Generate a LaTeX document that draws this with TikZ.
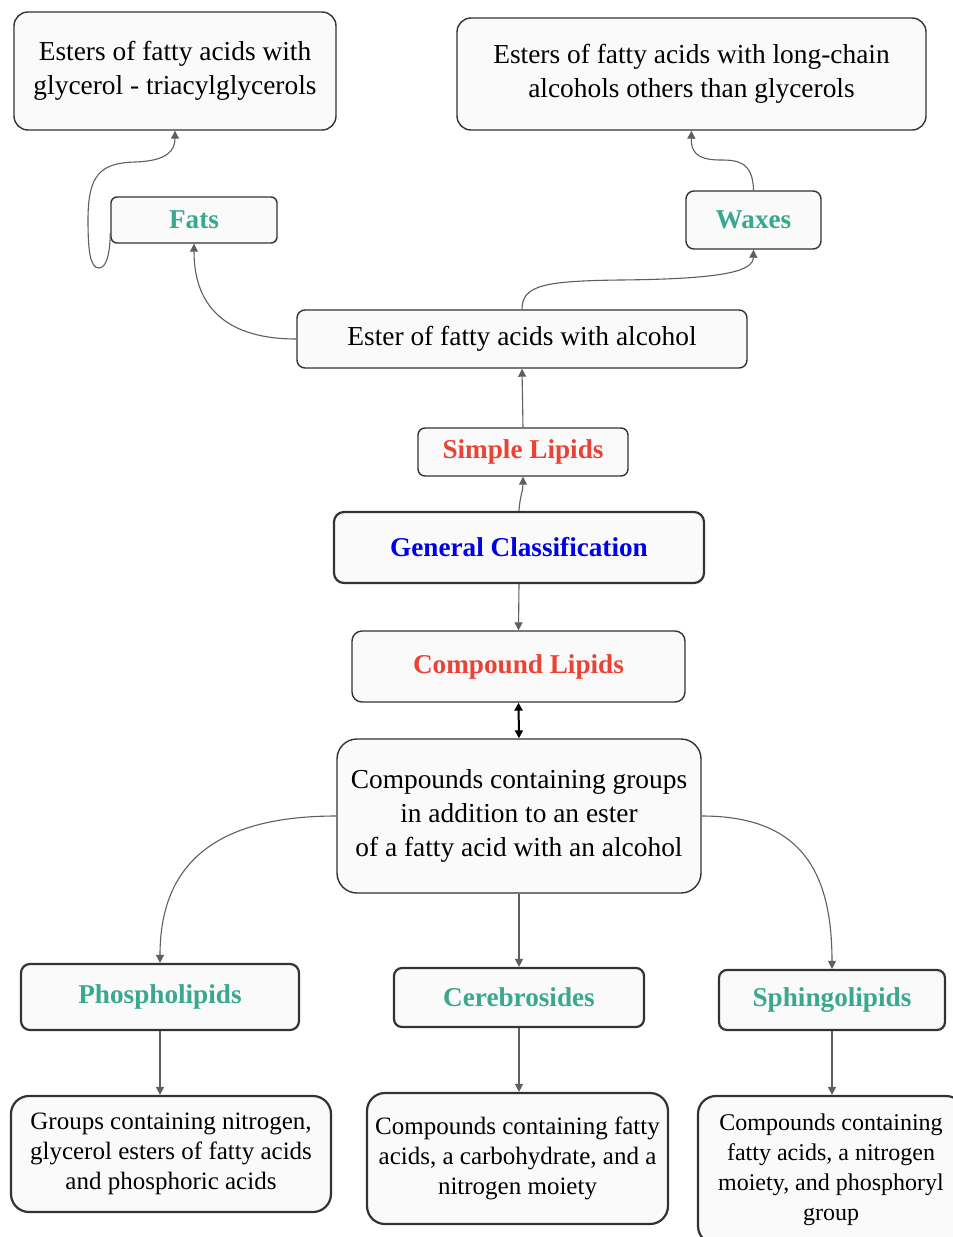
\documentclass[tikz,border=0pt]{standalone}
\usepackage{fontspec}
\setmainfont{Liberation Serif}
\usetikzlibrary{arrows.meta,calc}
\definecolor{teal1}{RGB}{58,168,143}
\definecolor{red1}{RGB}{234,67,53}
\definecolor{blue1}{RGB}{0,0,230}
\definecolor{fill1}{RGB}{250,250,250}
\definecolor{bord}{RGB}{51,51,51}
\definecolor{conn}{RGB}{95,95,95}
\tikzset{
  box/.style={draw=bord, fill=fill1, line width=0.7pt, rounded corners=6pt, inner sep=0pt, align=center,
    font=\fontsize{13.7}{17}\selectfont},
  tbox/.style={box, line width=1.1pt},
  lab/.style={font=\fontsize{13.6}{16}\selectfont\bfseries},
  desc/.style={font=\fontsize{12.5}{15}\selectfont},
  conn/.style={draw=conn, line width=0.55pt, -{Triangle[length=4pt,width=4pt]}},
}
\begin{document}
\begin{tikzpicture}[x=0.5pt,y=-0.5pt]
\clip (0,0) rectangle (953,1237);
\fill[white] (0,0) rectangle (953,1237);
% nodes
\node[box, minimum width=161pt, minimum height=59pt, rounded corners=7pt] (tl) at (175,71)
  {Esters of fatty acids with\\glycerol - triacylglycerols};
\node[box, minimum width=234.5pt, minimum height=56pt, rounded corners=7pt] (tr) at (691.5,74)
  {Esters of fatty acids with long-chain\\alcohols others than glycerols};
\node[box, lab, text=teal1, minimum width=83pt, minimum height=23pt, rounded corners=3pt] (fats) at (194,220) {Fats};
\node[box, lab, text=teal1, minimum width=67.5pt, minimum height=29pt, rounded corners=4pt] (waxes) at (753.5,220) {Waxes};
\node[box, minimum width=225pt, minimum height=29pt, rounded corners=4pt] (ester) at (522,339) {Ester of fatty acids with alcohol};
\node[box, lab, text=red1, minimum width=105pt, minimum height=24pt, rounded corners=3.5pt] (simple) at (523,452) {Simple Lipids};
\node[tbox, lab, text=blue1, minimum width=185pt, minimum height=35.5pt, rounded corners=5pt] (general) at (519,547.5) {General Classification};
\node[box, lab, text=red1, minimum width=166.5pt, minimum height=35.5pt, rounded corners=5pt] (compound) at (518.5,666.5) {Compound Lipids};
\node[box, minimum width=182pt, minimum height=77pt, rounded corners=10pt] (cc) at (519,816)
  {Compounds containing groups\\in addition to an ester\\of a fatty acid with an alcohol};
\node[tbox, lab, text=teal1, minimum width=139pt, minimum height=33pt, rounded corners=4.5pt] (phos) at (160,997) {Phospholipids};
\node[tbox, lab, text=teal1, minimum width=125pt, minimum height=29.5pt, rounded corners=4pt] (cere) at (519,997.5) {Cerebrosides};
\node[tbox, lab, text=teal1, minimum width=113pt, minimum height=30pt, rounded corners=4pt] (sphi) at (832,1000) {Sphingolipids};
\node[tbox, desc, minimum width=160pt, minimum height=58pt, rounded corners=9pt] (d1) at (171,1154)
  {Groups containing nitrogen,\\glycerol esters of fatty acids\\and phosphoric acids};
\node[tbox, desc, minimum width=150.5pt, minimum height=65.5pt, rounded corners=9pt] (d2) at (517.5,1158.5)
  {Compounds containing fatty\\acids, a carbohydrate, and a\\nitrogen moiety};
\node[tbox, desc, font=\fontsize{12}{15}\selectfont, minimum width=133pt, minimum height=74pt, rounded corners=9pt] (d3) at (831,1170)
  {Compounds containing\\fatty acids, a nitrogen\\moiety, and phosphoryl\\group};
% connectors
\draw[conn] ($(fats.west)+(0,13)$) .. controls (110,255) and (106,268) .. (99,268)
  .. controls (90,268) and (88,250) .. (88,220)
  .. controls (88,175) and (100,163) .. (135,162)
  .. controls (168,161) and (175,150) .. (tl.south);
\draw[conn] (waxes.north) .. controls (753,160) and (735,160) .. (720,160)
  .. controls (695,160) and (691,150) .. (tr.south);
\draw[conn] (ester.west) .. controls (230,339) and (194,310) .. (fats.south);
\draw[conn] (ester.north) .. controls (522,285) and (545,281) .. (620,280)
  .. controls (720,279) and (753,272) .. (waxes.south);
\draw[conn] (simple.north) -- (ester.south);
\draw[conn] (general.north) .. controls (520,495) and (523,492) .. (simple.south);
\draw[conn] (general.south) -- (compound.north);
\draw[line width=1pt, black, {Triangle[length=4pt,width=4pt]}-{Triangle[length=4pt,width=4pt]}] (compound.south) -- (cc.north);
\draw[conn] (cc.west) .. controls (220,816) and (160,860) .. (phos.north);
\draw[conn] (cc.south) -- (cere.north);
\draw[conn] (cc.east) .. controls (800,816) and (832,870) .. (sphi.north);
\draw[conn] (phos.south) -- (phos.south |- d1.north);
\draw[conn] (cere.south) -- (cere.south |- d2.north);
\draw[conn] (sphi.south) -- (sphi.south |- d3.north);
\end{tikzpicture}
\end{document}
